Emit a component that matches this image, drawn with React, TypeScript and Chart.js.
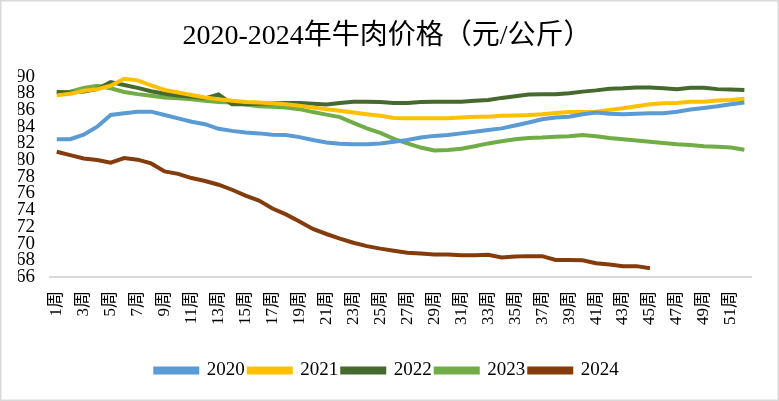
import React, { useEffect, useRef } from "react";
import { Chart, registerables } from "chart.js";

Chart.register(...registerables);

const weeks: string[] = Array.from({ length: 52 }, (_, i) => `${i + 1}周`);

const s2020: number[] = [
  82.5, 82.5, 83.05, 84.0, 85.4, 85.6, 85.8, 85.8, 85.4, 85.0,
  84.6, 84.3, 83.75, 83.5, 83.3, 83.2, 83.05, 83.0, 82.75, 82.4,
  82.1, 81.95, 81.9, 81.9, 82.0, 82.2, 82.4, 82.7, 82.9, 83.0,
  83.2, 83.4, 83.6, 83.8, 84.15, 84.5, 84.9, 85.1, 85.2, 85.5,
  85.7, 85.55, 85.5, 85.55, 85.6, 85.6, 85.8, 86.05, 86.25, 86.45,
  86.7, 86.9,
];
const s2021: number[] = [
  87.75, 87.95, 88.3, 88.5, 88.9, 89.75, 89.55, 88.95, 88.4, 88.1,
  87.8, 87.5, 87.3, 87.1, 86.95, 86.9, 86.8, 86.7, 86.5, 86.3,
  86.1, 85.9, 85.7, 85.5, 85.3, 85.05, 85.0, 85.0, 85.0, 85.0,
  85.1, 85.2, 85.2, 85.3, 85.35, 85.4, 85.5, 85.65, 85.75, 85.75,
  85.8, 86.0, 86.2, 86.45, 86.7, 86.8, 86.85, 87.0, 87.0, 87.15,
  87.2, 87.35,
];
const s2022: number[] = [
  88.15, 88.1, 88.2, 88.5, 89.35, 89.0, 88.65, 88.25, 87.95, 87.75,
  87.6, 87.4, 87.85, 86.7, 86.7, 86.75, 86.8, 86.85, 86.85, 86.75,
  86.65, 86.85, 87.0, 87.0, 86.95, 86.85, 86.85, 86.95, 87.0, 87.0,
  87.0, 87.1, 87.2, 87.45, 87.65, 87.85, 87.9, 87.9, 88.0, 88.2,
  88.35, 88.55, 88.6, 88.7, 88.7, 88.6, 88.5, 88.65, 88.65, 88.5,
  88.45, 88.4,
];
const s2023: number[] = [
  88.15, 88.2, 88.65, 88.9, 88.6, 88.15, 87.9, 87.7, 87.5, 87.4,
  87.3, 87.1, 86.95, 86.9, 86.65, 86.45, 86.4, 86.3, 86.1, 85.75,
  85.45, 85.15, 84.45, 83.8, 83.25, 82.55, 82.0, 81.5, 81.15, 81.2,
  81.35, 81.65, 82.0, 82.25, 82.5, 82.65, 82.7, 82.8, 82.85, 83.0,
  82.85, 82.65, 82.5, 82.35, 82.2, 82.05, 81.9, 81.8, 81.65, 81.6,
  81.5, 81.25,
];
const s2024: (number | null)[] = [
  81.0, 80.6, 80.2, 80.0, 79.7, 80.25, 80.05, 79.6, 78.65, 78.35,
  77.85, 77.5, 77.05, 76.45, 75.75, 75.15, 74.2, 73.5, 72.65, 71.75,
  71.15, 70.6, 70.1, 69.7, 69.4, 69.15, 68.9, 68.8, 68.7, 68.7,
  68.6, 68.6, 68.65, 68.35, 68.45, 68.5, 68.5, 68.05, 68.05, 68.0,
  67.65, 67.5, 67.3, 67.3, 67.05,
];

const seriesNames: string[] = ["2020", "2021", "2022", "2023", "2024"];
const seriesColors: string[] = ["#5B9BD5", "#FFC000", "#46692E", "#70AD47", "#843C0C"];
const yMin = 66;
const yMax = 90;
const yStep = 2;

const FONT = "'Times New Roman', 'Liberation Serif', 'Noto Sans CJK SC', serif";

const frame = {
  id: "frame",
  beforeDraw(chart: any) {
    const { ctx, width, height } = chart;
    ctx.save();
    ctx.fillStyle = "#ffffff";
    ctx.fillRect(0, 0, width, height);
    ctx.strokeStyle = "#d9d9d9";
    ctx.lineWidth = 1.5;
    ctx.strokeRect(0.75, 0.75, width - 1.5, height - 1.5);
    ctx.restore();
  },
};

export default function App() {
  const ref = useRef<HTMLCanvasElement | null>(null);

  useEffect(() => {
    document.body.style.margin = "0";
    if (!ref.current) return;
    const all = [s2020, s2021, s2022, s2023, s2024];
    const chart = new Chart(ref.current, {
      type: "line",
      data: {
        labels: weeks,
        datasets: all.map((d, i) => ({
          label: seriesNames[i],
          data: d,
          borderColor: seriesColors[i],
          backgroundColor: seriesColors[i],
          borderWidth: 4,
          pointRadius: 0,
          tension: 0,
          fill: false,
        })),
      },
      options: {
        responsive: false,
        animation: false,
        layout: { padding: { left: 18, right: 23, top: 0, bottom: 11 } },
        plugins: {
          title: {
            display: true,
            text: "2020-2024年牛肉价格（元/公斤）",
            color: "#000",
            font: { family: FONT, size: 28, weight: "normal" },
            padding: { top: 20, bottom: 23 },
          },
          legend: {
            position: "bottom",
            labels: {
              color: "#000",
              font: { family: FONT, size: 19 },
              boxWidth: 42,
              boxHeight: 4,
              padding: 4,
            },
          },
          tooltip: { enabled: false },
        },
        scales: {
          x: {
            offset: true,
            grid: { display: false, drawTicks: false },
            border: { display: true, color: "#d9d9d9", width: 2 },
            ticks: {
              autoSkip: false,
              maxRotation: 90,
              minRotation: 90,
              padding: 14,
              color: "#000",
              font: { family: FONT, size: 17 },
              callback: (_v: any, idx: number) => (idx % 2 === 0 ? weeks[idx] : ""),
            },
            afterFit: (scale: any) => {
              scale.height = 80;
            },
          },
          y: {
            min: yMin,
            max: yMax,
            grid: { display: false, drawTicks: false },
            border: { display: false },
            ticks: {
              stepSize: yStep,
              autoSkip: false,
              padding: 15,
              color: "#000",
              font: { family: FONT, size: 19, lineHeight: 0.8 },
            },
            afterFit: (scale: any) => {
              scale.width = 32;
            },
          },
        },
      },
      plugins: [frame],
    });
    return () => chart.destroy();
  }, []);

  return (
    <div style={{ position: "absolute", left: 0, top: 0, width: 779, height: 401 }}>
      <canvas ref={ref} width={779} height={401} style={{ width: 779, height: 401, display: "block" }} />
    </div>
  );
}
